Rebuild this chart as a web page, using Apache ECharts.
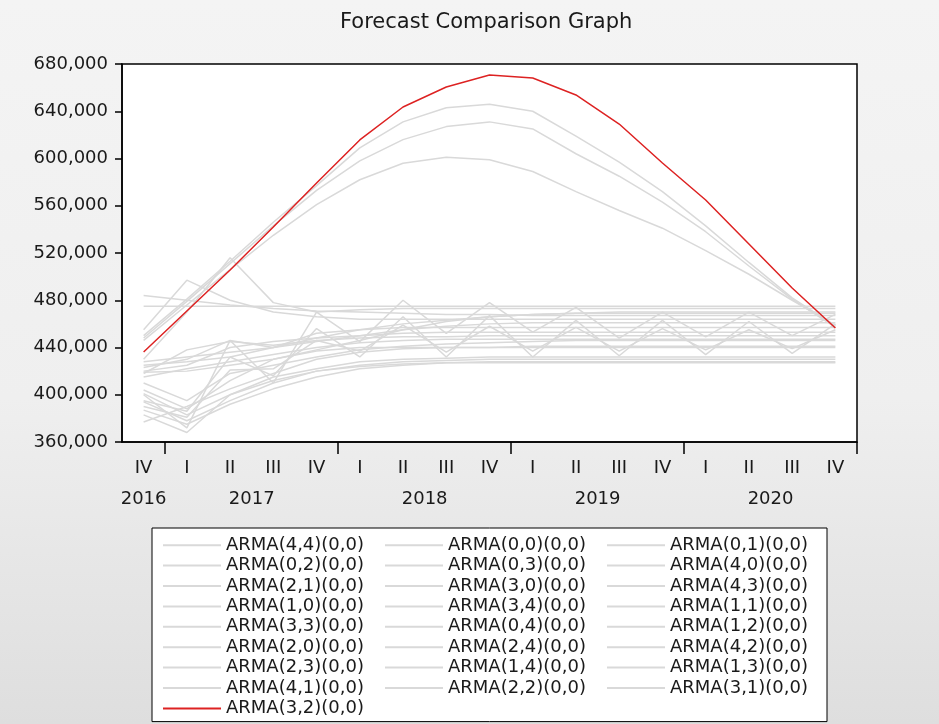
<!DOCTYPE html>
<html>
<head>
<meta charset="utf-8">
<title>Forecast Comparison Graph</title>
<script src="https://cdn.jsdelivr.net/npm/echarts@6/dist/echarts.min.js"></script>
<style>
    html, body { margin: 0; padding: 0; }
    #main { width: 939px; height: 724px; }
</style>
</head>
<body>
<div id="main"></div>
<script>
// 季度标签 2016Q4 - 2020Q4
var quarters = ['IV', 'I', 'II', 'III', 'IV', 'I', 'II', 'III', 'IV', 'I', 'II', 'III', 'IV', 'I', 'II', 'III', 'IV'];
// 年份标签(半季度刻度, 35 个位置)
var yearSlots = ['', '2016', '', '', '', '', '2017', '', '', '', '', '', '', '', '2018', '', '', '', '', '', '', '', '2019', '', '', '', '', '', '', '', '2020', '', '', '', ''];
var yTicks = [360000, 400000, 440000, 480000, 520000, 560000, 600000, 640000, 680000];

// 各模型预测值
var arma44 = [484000, 480000, 476000, 473000, 471000, 470000, 469000, 468000, 468000, 467000, 467000, 467000, 467000, 467000, 467000, 467000, 467000];
var arma00 = [475000, 475000, 475000, 475000, 475000, 475000, 475000, 475000, 475000, 475000, 475000, 475000, 475000, 475000, 475000, 475000, 475000];
var arma01 = [455000, 497000, 480000, 470000, 466000, 464000, 464000, 464000, 464000, 464000, 464000, 464000, 464000, 464000, 464000, 464000, 464000];
var arma02 = [430000, 470000, 516000, 478000, 470000, 472000, 473000, 473000, 473000, 473000, 473000, 473000, 473000, 473000, 473000, 473000, 473000];
var arma03 = [420000, 425000, 440000, 445000, 448000, 450000, 452000, 453000, 453000, 453000, 453000, 453000, 453000, 453000, 453000, 453000, 453000];
var arma40 = [418000, 438000, 445000, 442000, 446000, 448000, 449000, 449000, 450000, 450000, 450000, 450000, 450000, 450000, 450000, 450000, 450000];
var arma21 = [410000, 395000, 418000, 425000, 432000, 438000, 441000, 443000, 444000, 445000, 446000, 446000, 446000, 446000, 446000, 446000, 446000];
var arma30 = [404000, 388000, 412000, 430000, 437000, 440000, 440000, 440000, 440000, 440000, 440000, 440000, 440000, 440000, 440000, 440000, 440000];
var arma43 = [448000, 479000, 511000, 543000, 573000, 598000, 616000, 627000, 631000, 625000, 604000, 585000, 563000, 538000, 509000, 481000, 457000];
var arma10 = [401000, 383000, 400000, 415000, 422000, 428000, 430000, 431000, 432000, 432000, 432000, 432000, 432000, 432000, 432000, 432000, 432000];
var arma34 = [394000, 378000, 395000, 410000, 420000, 425000, 428000, 429000, 430000, 430000, 430000, 430000, 430000, 430000, 430000, 430000, 430000];
var arma11 = [387000, 375000, 392000, 405000, 415000, 422000, 425000, 427000, 428000, 428000, 428000, 428000, 428000, 428000, 428000, 428000, 428000];
var arma33 = [450000, 481000, 513000, 546000, 577000, 609000, 631000, 643000, 646000, 640000, 619000, 597000, 572000, 543000, 512000, 482000, 458000];
var arma04 = [383000, 368000, 400000, 412000, 420000, 424000, 426000, 427000, 427000, 427000, 427000, 427000, 427000, 427000, 427000, 427000, 427000];
var arma12 = [428000, 432000, 436000, 440000, 445000, 450000, 455000, 458000, 460000, 461000, 461000, 461000, 461000, 461000, 461000, 461000, 461000];
var arma20 = [423000, 430000, 446000, 440000, 452000, 455000, 457000, 457000, 457000, 457000, 457000, 457000, 457000, 457000, 457000, 457000, 457000];
var arma24 = [395000, 386000, 432000, 416000, 456000, 432000, 466000, 432000, 467000, 432000, 463000, 433000, 463000, 434000, 462000, 435000, 460000];
var arma42 = [425000, 428000, 432000, 440000, 448000, 455000, 460000, 463000, 466000, 468000, 469000, 470000, 470000, 470000, 470000, 470000, 470000];
var arma23 = [419000, 420000, 425000, 430000, 438000, 446000, 455000, 462000, 466000, 468000, 469000, 469000, 469000, 469000, 469000, 469000, 469000];
var arma14 = [390000, 381000, 421000, 422000, 446000, 437000, 459000, 436000, 458000, 437000, 457000, 437000, 456000, 438000, 455000, 439000, 455000];
var arma13 = [415000, 422000, 428000, 434000, 440000, 444000, 446000, 447000, 447000, 447000, 447000, 447000, 447000, 447000, 447000, 447000, 447000];
var arma41 = [400000, 372000, 446000, 410000, 470000, 445000, 480000, 452000, 478000, 453000, 474000, 448000, 470000, 449000, 470000, 450000, 468000];
var arma22 = [446000, 476000, 506000, 535000, 561000, 582000, 596000, 601000, 599000, 589000, 572000, 556000, 541000, 522000, 502000, 480000, 459000];
var arma31 = [377000, 390000, 405000, 418000, 430000, 436000, 439000, 440000, 440000, 441000, 441000, 441000, 441000, 441000, 441000, 441000, 441000];
var arma32 = [436200, 470900, 505600, 542000, 579200, 615700, 643600, 660500, 670700, 668200, 653800, 629200, 596200, 564900, 527600, 490400, 456500];

// 图例顺序(按行)
var names = ['ARMA(4,4)(0,0)', 'ARMA(0,0)(0,0)', 'ARMA(0,1)(0,0)', 'ARMA(0,2)(0,0)', 'ARMA(0,3)(0,0)',
    'ARMA(4,0)(0,0)', 'ARMA(2,1)(0,0)', 'ARMA(3,0)(0,0)', 'ARMA(4,3)(0,0)', 'ARMA(1,0)(0,0)',
    'ARMA(3,4)(0,0)', 'ARMA(1,1)(0,0)', 'ARMA(3,3)(0,0)', 'ARMA(0,4)(0,0)', 'ARMA(1,2)(0,0)',
    'ARMA(2,0)(0,0)', 'ARMA(2,4)(0,0)', 'ARMA(4,2)(0,0)', 'ARMA(2,3)(0,0)', 'ARMA(1,4)(0,0)',
    'ARMA(1,3)(0,0)', 'ARMA(4,1)(0,0)', 'ARMA(2,2)(0,0)', 'ARMA(3,1)(0,0)', 'ARMA(3,2)(0,0)'];
var values = [arma44, arma00, arma01, arma02, arma03, arma40, arma21, arma30, arma43, arma10,
    arma34, arma11, arma33, arma04, arma12, arma20, arma24, arma42, arma23, arma14,
    arma13, arma41, arma22, arma31, arma32];

var font = 'DejaVu Sans';
var textColor = '#1a1a1a';

function fmt(v) {
    return String(v).replace(/\B(?=(\d{3})+(?!\d))/g, ',');
}

var series = [];
for (var i = 0; i < names.length; i++) {
    var isRed = names[i] == 'ARMA(3,2)(0,0)';
    series.push({
        name: names[i],
        type: 'line',
        xAxisIndex: 0,
        data: values[i],
        symbol: 'none',
        z: isRed ? 5 : 2,
        lineStyle: {
            color: isRed ? '#dd2222' : '#d9d9d9',
            width: 1.5
        },
        itemStyle: { color: isRed ? '#dd2222' : '#d9d9d9' }
    });
}

var chart = echarts.init(document.getElementById('main'));
chart.setOption({
    animation: false,
    backgroundColor: new echarts.graphic.LinearGradient(0, 0, 0, 1, [
        { offset: 0, color: '#f4f4f4' },
        { offset: 0.55, color: '#efefef' },
        { offset: 1, color: '#dedede' }
    ]),
    title: {
        text: 'Forecast Comparison Graph',
        left: 340,
        top: 12,
        padding: 0,
        textStyle: { fontFamily: font, fontSize: 21, fontWeight: 'normal', color: textColor }
    },
    grid: {
        left: 122,
        right: 82,
        top: 64,
        bottom: 282,
        show: true,
        backgroundColor: '#fff',
        borderColor: '#000',
        borderWidth: 1.5
    },
    legend: {
        data: names,
        left: 152,
        top: 528,
        width: 670,
        orient: 'horizontal',
        padding: [8, 0, 4, 11],
        itemGap: 2,
        icon: 'rect',
        itemWidth: 58,
        itemHeight: 2,
        backgroundColor: '#fff',
        borderColor: '#000',
        borderWidth: 1,
        textStyle: { fontFamily: font, fontSize: 18, color: textColor, width: 157, lineHeight: 18.4 }
    },
    xAxis: [{
        type: 'category',
        position: 'bottom',
        data: quarters,
        boundaryGap: true,
        axisLine: { lineStyle: { color: '#000', width: 1.5 } },
        axisTick: { length: 6, lineStyle: { color: '#000', width: 1.5 } },
        axisLabel: { interval: 0, margin: 17, fontFamily: font, fontSize: 18, color: textColor }
    }, {
        type: 'category',
        position: 'bottom',
        data: yearSlots,
        boundaryGap: false,
        axisLine: { show: false },
        axisTick: {
            length: 12,
            interval: function (idx) { return idx % 8 == 2; },
            lineStyle: { color: '#000', width: 1.5 }
        },
        axisLabel: { interval: 0, margin: 48, fontFamily: font, fontSize: 18, color: textColor }
    }],
    yAxis: {
        type: 'value',
        min: yTicks[0],
        max: yTicks[yTicks.length - 1],
        interval: 40000,
        axisLine: { show: true, lineStyle: { color: '#000', width: 1.5 } },
        axisTick: { show: true, length: 7, lineStyle: { color: '#000', width: 1.5 } },
        splitLine: { show: false },
        axisLabel: { margin: 14, fontFamily: font, fontSize: 18, color: textColor, formatter: fmt }
    },
    series: series
});
</script>
</body>
</html>
